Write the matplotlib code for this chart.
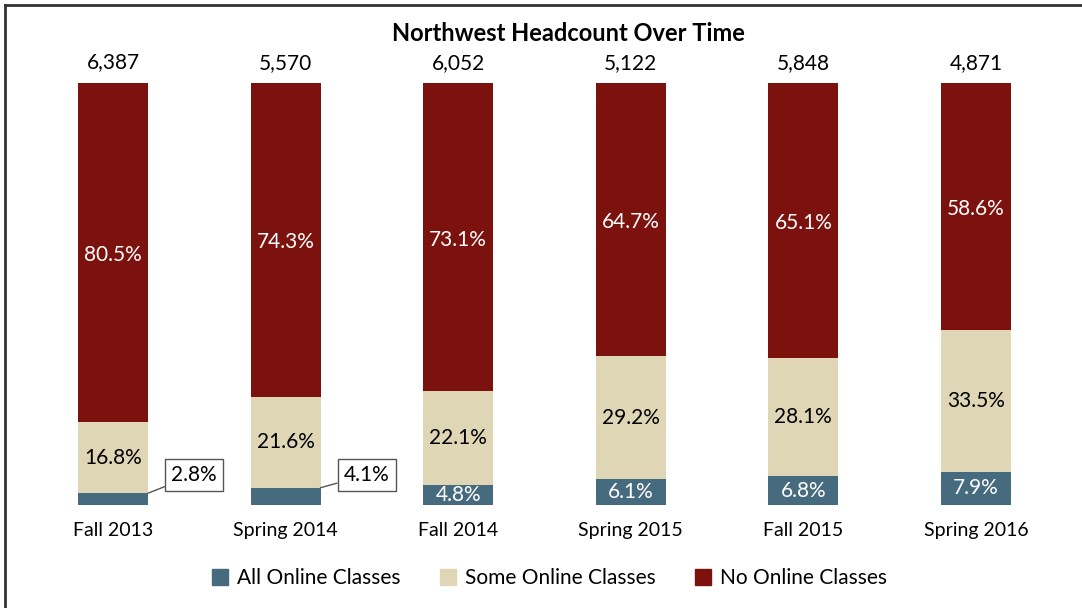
import matplotlib.pyplot as plt
from matplotlib.lines import Line2D
from matplotlib.patches import Patch

plt.rcParams['font.family'] = ['Lato', 'DejaVu Sans']

terms = ["Fall 2013", "Spring 2014", "Fall 2014", "Spring 2015", "Fall 2015", "Spring 2016"]
totals = [6387, 5570, 6052, 5122, 5848, 4871]
all_online = [2.8, 4.1, 4.8, 6.1, 6.8, 7.9]
some_online = [16.8, 21.6, 22.1, 29.2, 28.1, 33.5]
no_online = [80.5, 74.3, 73.1, 64.7, 65.1, 58.6]

c_all = "#466a7e"
c_some = "#ded6b5"
c_no = "#7b120e"

fig = plt.figure(figsize=(10.82, 6.08), dpi=100)
ax = fig.add_axes([0.0247, 0.1694, 0.957, 0.694])

x = list(range(len(terms)))
w = 0.405
bottom2 = all_online
bottom3 = [a + s for a, s in zip(all_online, some_online)]
ax.bar(x, all_online, w, color=c_all)
ax.bar(x, some_online, w, bottom=bottom2, color=c_some)
ax.bar(x, no_online, w, bottom=bottom3, color=c_no)

fs = 15
for i in x:
    top = bottom3[i] + no_online[i]
    ax.text(i, top + 2.4, f"{totals[i]:,}", ha="center", va="bottom", fontsize=fs)
    ax.text(i, bottom3[i] + no_online[i] / 2 - 0.6, f"{no_online[i]}%", ha="center", va="center",
            fontsize=fs, color="white")
    ax.text(i, bottom2[i] + some_online[i] / 2, f"{some_online[i]}%", ha="center", va="center",
            fontsize=fs, color="black")
    if all_online[i] < 4.5:
        # small segment: label in a callout box to the right
        ax.annotate(f"{all_online[i]}%", xy=(i + w / 2, all_online[i]),
                    xytext=(i + 0.47, 7.1), ha="center", va="center", fontsize=fs,
                    bbox=dict(boxstyle="square,pad=0.3", fc="white", ec="#555555", lw=1),
                    arrowprops=dict(arrowstyle="-", color="#555555", lw=1, shrinkA=0, shrinkB=0))
    else:
        ax.text(i, all_online[i] / 2, f"{all_online[i]}%", ha="center", va="center",
                fontsize=fs, color="white")

ax.set_xlim(-0.5, 5.5)
ax.set_ylim(0, 100)
ax.set_xticks(x)
ax.set_xticklabels(terms, fontsize=14)
ax.tick_params(axis="x", length=0, pad=12)
ax.set_yticks([])
for s in ax.spines.values():
    s.set_visible(False)

fig.text(0.525, 0.945, "Northwest Headcount Over Time", ha="center", va="center",
         fontsize=17, fontweight="bold")

handles = [Patch(color=c_all, label="All Online Classes"),
           Patch(color=c_some, label="Some Online Classes"),
           Patch(color=c_no, label="No Online Classes")]
fig.legend(handles=handles, loc="center", bbox_to_anchor=(0.508, 0.049), ncol=3,
           frameon=False, fontsize=fs, handlelength=0.75, handleheight=0.75,
           handletextpad=0.45, columnspacing=1.9)

# frame on left and top edges
fig.add_artist(Line2D([0.005, 0.005], [0, 0.992], transform=fig.transFigure, color="#333333", lw=2))
fig.add_artist(Line2D([0.005, 1], [0.992, 0.992], transform=fig.transFigure, color="#333333", lw=2))

fig.savefig("out.png", dpi=100)
